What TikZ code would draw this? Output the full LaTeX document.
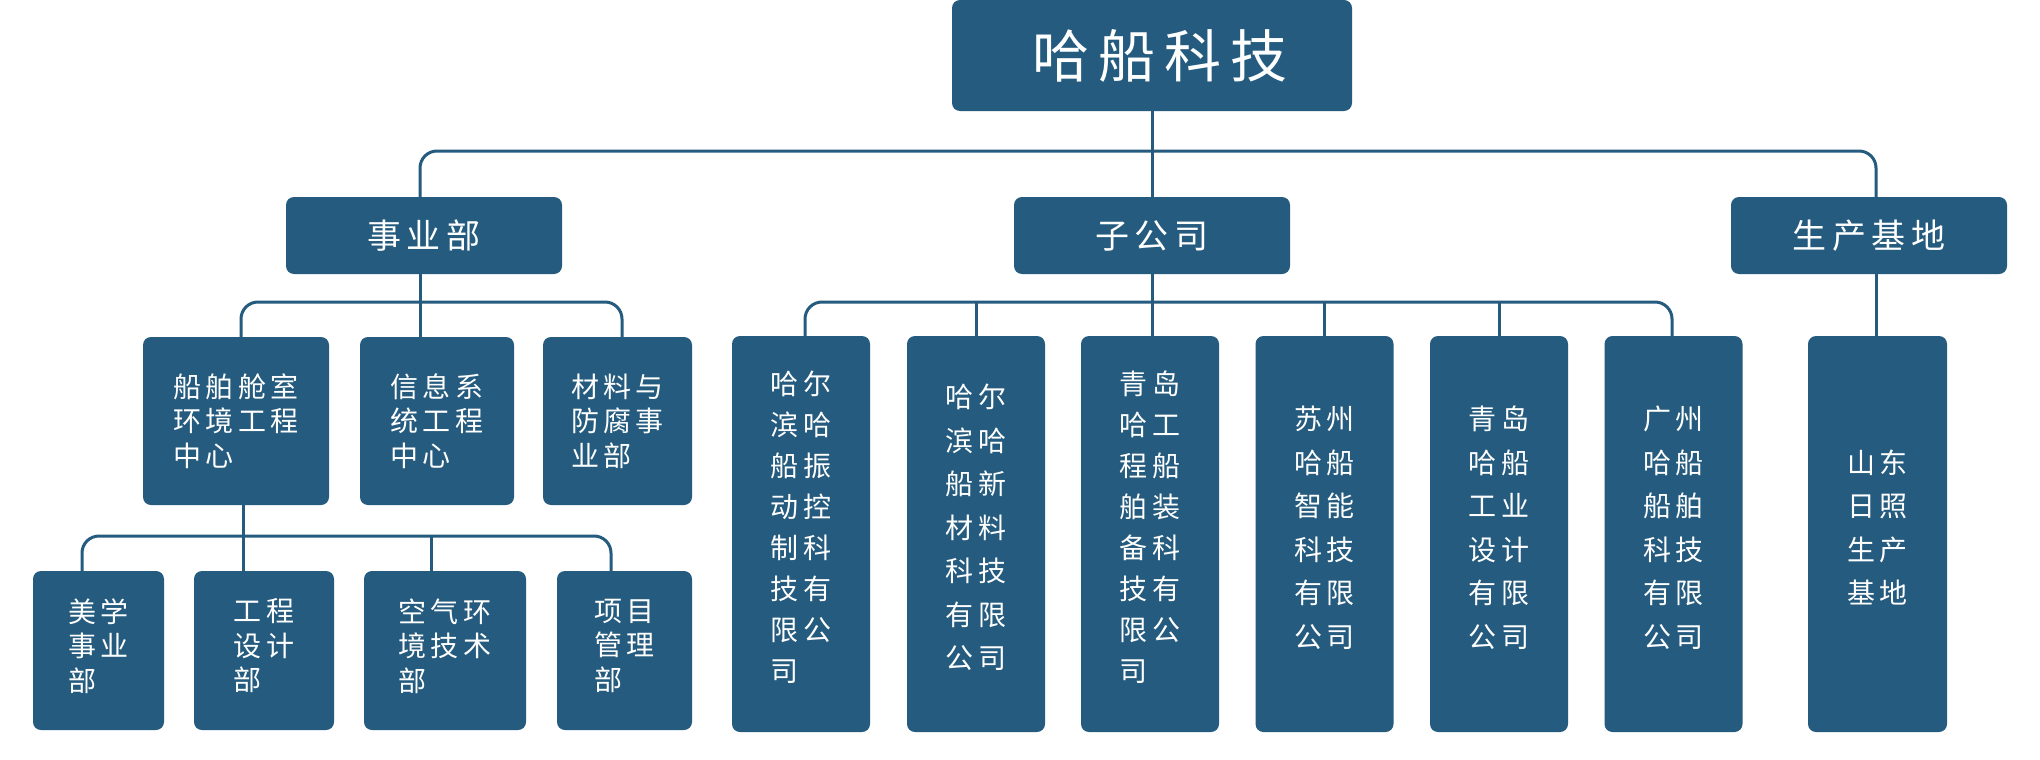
\documentclass[tikz,border=0pt]{standalone}
\usepackage{fontspec}
\newfontfamily\cjk[LetterSpace=16]{Noto Sans CJK SC}
\definecolor{hb}{HTML}{245B7E}
\newcommand\liftby[1]{\\[#1]\mbox{}}
\begin{document}
\begin{tikzpicture}[x=1pt,y=-1pt,
  orgbox/.style={fill=hb, rounded corners=8pt, text=white, inner sep=0pt, align=left},
  roott/.style={font=\cjk\fontsize{57}{64}\selectfont},
  headt/.style={font=\cjk\fontsize{34}{40}\selectfont},
  smallt/.style={font=\cjk\fontsize{28}{34.5}\selectfont},
  tallt/.style={font=\cjk\fontsize{28}{43.5}\selectfont},
  tallu/.style={font=\cjk\fontsize{28}{41}\selectfont},
  conn/.style={draw=hb, line width=3pt, rounded corners=17pt},
  sz/.style 2 args={minimum width=#1pt, minimum height=#2pt}]
\useasboundingbox[fill=white] (0,0) rectangle (2040,760);

% root
\node[orgbox, roott, sz={400}{111}] (root) at (1152,55.5) {\hspace*{16pt}哈船科技};

% level 1
\node[orgbox, headt, sz={276}{77}] (sy)  at (424,235.5)  {事业部};
\node[orgbox, headt, sz={276}{77}] (zgs) at (1152,235.5) {子公司};
\node[orgbox, headt, sz={276}{77}] (jd)  at (1869,235.5) {生产基地};

% level 2 (business units)
\node[orgbox, smallt, sz={186}{168}] (cabin) at (236,421)   {船舶舱室\\环境工程\\中心};
\node[orgbox, smallt, sz={154}{168}] (info)  at (437,421)   {信息系\\统工程\\中心};
\node[orgbox, smallt, sz={149}{168}] (mat)   at (617.5,421) {材料与\\防腐事\\业部};

% level 3
\node[orgbox, smallt, sz={131}{159}] (mx) at (98.5,650.5) {美学\\事业\\部\liftby{-23pt}};
\node[orgbox, smallt, sz={140}{159}] (gc) at (264,650.5)  {工程\\设计\\部\liftby{-23pt}};
\node[orgbox, smallt, sz={162}{159}] (kq) at (445,650.5)  {空气环\\境技术\\部\liftby{-23pt}};
\node[orgbox, smallt, sz={135}{159}] (xm) at (624.5,650.5){项目\\管理\\部\liftby{-23pt}};

% subsidiaries
\node[orgbox, tallu, sz={138}{396}] (c1) at (801,534)    {哈尔\\滨哈\\船振\\动控\\制科\\技有\\限公\\司\liftby{-26pt}};
\node[orgbox, tallt, sz={138}{396}] (c2) at (976,534)    {哈尔\\滨哈\\船新\\材料\\科技\\有限\\公司\liftby{-28.5pt}};
\node[orgbox, tallu, sz={138}{396}] (c3) at (1150,534)   {青岛\\哈工\\程船\\舶装\\备科\\技有\\限公\\司\liftby{-26pt}};
\node[orgbox, tallt, sz={138}{396}] (c4) at (1324.5,534) {苏州\\哈船\\智能\\科技\\有限\\公司\liftby{-28.5pt}};
\node[orgbox, tallt, sz={138}{396}] (c5) at (1499,534)   {青岛\\哈船\\工业\\设计\\有限\\公司\liftby{-28.5pt}};
\node[orgbox, tallt, sz={138}{396}] (c6) at (1673.5,534) {广州\\哈船\\船舶\\科技\\有限\\公司\liftby{-28.5pt}};

% production base
\node[orgbox, tallt, sz={139}{396}] (sd) at (1877.5,534) {山东\\日照\\生产\\基地\liftby{-28.5pt}};

% bus coordinates
\coordinate (bus0) at (1152,151);
\coordinate (bus1) at (420,302);
\coordinate (bus2) at (243,536);
\coordinate (bus3) at (1150,302);

% connectors: root level
\draw[conn] ([xshift=-4pt]sy.north) |- (bus0) -| ([xshift=7pt]jd.north);
\draw[conn] (root.south) -- (zgs.north);

% business units
\draw[conn] ([xshift=-4pt]sy.south) -- ([xshift=-4pt]sy.south |- info.north);
\draw[conn] ([xshift=5pt]cabin.north) |- (bus1) -| ([xshift=4.5pt]mat.north);

% level 3
\draw[conn] ([xshift=7pt]cabin.south) -- ([xshift=7pt]cabin.south |- gc.north);
\draw[conn] ([xshift=-16.5pt]mx.north) |- (bus2) -| ([xshift=-13.5pt]xm.north);
\draw[conn] ([xshift=-14pt]kq.north) -- ([xshift=-14pt]kq.north |- bus2);

% subsidiaries
\draw[conn] (zgs.south) -- (zgs.south |- c3.north);
\draw[conn] ([xshift=4pt]c1.north) |- (bus3) -| ([xshift=-1.5pt]c6.north);
\draw[conn] (c2.north) -- (c2.north |- bus3);
\draw[conn] (c4.north) -- (c4.north |- bus3);
\draw[conn] (c5.north) -- (c5.north |- bus3);

% production base
\draw[conn] ([xshift=7pt]jd.south) -- ([xshift=7pt]jd.south |- sd.north);
\end{tikzpicture}
\end{document}
